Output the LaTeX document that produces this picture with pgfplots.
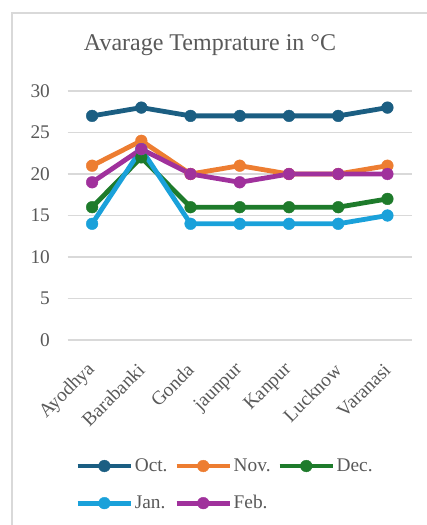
\documentclass[border=0pt]{standalone}
\usepackage{fontspec}
\setmainfont{Liberation Serif}
\usepackage{pgfplots}
\pgfplotsset{compat=1.18}
\definecolor{txt}{HTML}{595959}
\definecolor{gridc}{HTML}{D9D9D9}
\definecolor{coct}{HTML}{1B5E82}
\definecolor{cnov}{HTML}{ED7D31}
\definecolor{cdec}{HTML}{1E7B2B}
\definecolor{cjan}{HTML}{1AA1DA}
\definecolor{cfeb}{HTML}{A0319C}
\begin{document}
\begin{tikzpicture}
\path[use as bounding box] (0,0) rectangle (319.5pt,393.75pt);
\draw[gridc, line width=0.9pt] (9pt,-2pt) -- (9pt,384pt) -- (322pt,384pt);
\node[text=txt, font=\fontsize{18}{20}\selectfont] at (157.5pt,360pt) {Avarage Temprature in °C};
\begin{axis}[
  at={(50.625pt,138.75pt)}, anchor=south west,
  scale only axis, width=258.4pt, height=186.75pt,
  xmin=-0.5, xmax=6.5, ymin=0, ymax=30,
  ytick={0,5,...,30}, xtick={0,...,6},
  xticklabels={Ayodhya,Barabanki,Gonda,jaunpur,Kanpur,Lucknow,Varanasi},
  ymajorgrids, grid style={gridc, line width=0.9pt},
  axis line style={draw=none}, major tick length=0pt,
  tick label style={font=\fontsize{14.5}{17}\selectfont, text=txt},
  /pgf/number format/assume math mode=true,
  yticklabel style={anchor=east, inner sep=0pt, xshift=-13pt},
  xticklabel style={yshift=-20pt, rotate=45, anchor=east, inner sep=0pt},
  every axis plot/.append style={line width=3.6pt, mark=*, mark size=4.4pt, mark options={solid, line width=0.3pt}},
  clip=false,
  legend columns=3,
  legend cell align=left,
  legend image code/.code={\draw[mark repeat=2,mark phase=2,#1] plot coordinates {(0pt,0pt) (20pt,0pt) (40pt,0pt)};},
  legend style={at={(0.022,-0.47)}, anchor=north west, draw=none, fill=none, inner sep=0pt,
    font=\fontsize{14.5}{17}\selectfont, text=txt, nodes={inner sep=1pt},
    /tikz/every even column/.append style={column sep=4pt}, row sep=14.5pt},
]
\addplot[coct] coordinates {(0,27)(1,28)(2,27)(3,27)(4,27)(5,27)(6,28)};
\addlegendentry{Oct.}
\addplot[cnov] coordinates {(0,21)(1,24)(2,20)(3,21)(4,20)(5,20)(6,21)};
\addlegendentry{Nov.}
\addplot[cdec] coordinates {(0,16)(1,22)(2,16)(3,16)(4,16)(5,16)(6,17)};
\addlegendentry{Dec.}
\addplot[cjan] coordinates {(0,14)(1,23)(2,14)(3,14)(4,14)(5,14)(6,15)};
\addlegendentry{Jan.}
\addplot[cfeb] coordinates {(0,19)(1,23)(2,20)(3,19)(4,20)(5,20)(6,20)};
\addlegendentry{Feb.}
\end{axis}
\end{tikzpicture}
\end{document}
